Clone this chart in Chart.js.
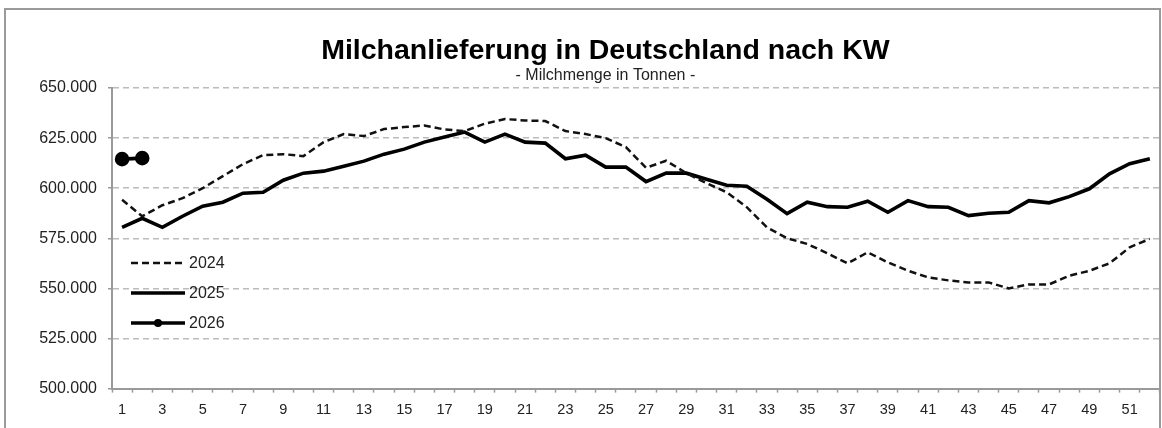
<!DOCTYPE html>
<html>
<head>
<meta charset="utf-8">
<script src="https://cdn.jsdelivr.net/npm/chart.js@4.4.1/dist/chart.umd.min.js"></script>
<style>
  html, body { margin: 0; padding: 0; background: #fff; overflow: hidden; }
  #wrap { position: relative; width: 1162px; height: 428px; overflow: hidden; }
  #c { display: block; }
</style>
</head>
<body>
<div id="wrap"><canvas id="c" width="1169" height="428"></canvas></div>
<script>
const weeks = ['1','2','3','4','5','6','7','8','9','10','11','12','13','14','15','16','17','18','19','20','21','22','23','24','25','26','27','28','29','30','31','32','33','34','35','36','37','38','39','40','41','42','43','44','45','46','47','48','49','50','51','52'];

const y2024 = [594200, 586000, 591500, 595000, 600000, 606000, 612000, 616500, 617000, 616000,
               623000, 627000, 626000, 629500, 630500, 631300, 629300, 628500, 632200, 634500,
               633800, 633500, 628500, 627000, 625000, 620500, 610200, 613700, 607500, 602500,
               598000, 590500, 580500, 575000, 572200, 567500, 562500, 568000, 563000, 558800,
               555500, 554000, 553000, 553000, 550000, 552000, 552000, 556300, 558800, 562500,
               570500, 574700];

const y2025 = [580500, 585000, 580500, 586000, 591000, 593000, 597500, 598000, 604000, 607500,
               608500, 611000, 613500, 617000, 619500, 623000, 625500, 628000, 623000, 627000,
               623000, 622500, 614700, 616500, 610500, 610500, 603300, 607500, 607500, 604500,
               601500, 601000, 594500, 587300, 593000, 590800, 590500, 593500, 588000, 593800,
               590800, 590500, 586300, 587500, 588000, 593800, 592700, 595800, 599700, 607200,
               612200, 614700];

const y2026 = [614500, 615000];

const seriesNames = ['2024', '2025', '2026'];
const titleText = 'Milchanlieferung in Deutschland nach KW';
const subtitleText = '- Milchmenge in Tonnen -';

const FONT = "'Liberation Sans', Arial, sans-serif";
const PAGE_W = 1162;

const frameTitleLegend = {
  id: 'frameTitleLegend',
  beforeDraw(chart) {
    const ctx = chart.ctx;
    ctx.save();
    ctx.fillStyle = '#fff';
    ctx.fillRect(0, 0, chart.width, chart.height);
    ctx.restore();
  },
  afterDraw(chart) {
    const ctx = chart.ctx;
    const ca = chart.chartArea;
    ctx.save();
    // outer frame
    ctx.strokeStyle = '#9a9a9a';
    ctx.lineWidth = 2;
    ctx.strokeRect(5, 9, PAGE_W - 7, chart.height + 20);
    // title + subtitle
    const cx = PAGE_W * 0.521;
    ctx.fillStyle = '#000';
    ctx.textAlign = 'center';
    ctx.textBaseline = 'alphabetic';
    ctx.font = 'bold 28.5px ' + FONT;
    ctx.fillText(titleText, cx, 59);
    ctx.fillStyle = '#222';
    ctx.font = '16px ' + FONT;
    ctx.fillText(subtitleText, cx, 80);
    // legend inside plot area
    chart.data.datasets.forEach((ds, i) => {
      const y = ca.top + 175 + i * 30;
      const x0 = ca.left + 19, x1 = ca.left + 73;
      ctx.beginPath();
      ctx.strokeStyle = ds.borderColor;
      ctx.lineWidth = ds.borderWidth;
      ctx.setLineDash(ds.borderDash || []);
      ctx.moveTo(x0, y);
      ctx.lineTo(x1, y);
      ctx.stroke();
      ctx.setLineDash([]);
      if (ds.pointRadius > 0) {
        ctx.beginPath();
        ctx.fillStyle = ds.pointBackgroundColor;
        ctx.arc((x0 + x1) / 2, y, 4, 0, Math.PI * 2);
        ctx.fill();
      }
      ctx.fillStyle = '#222';
      ctx.font = '16px ' + FONT;
      ctx.textBaseline = 'middle';
      ctx.textAlign = 'left';
      ctx.fillText(ds.label, x1 + 4, y + 1);
    });
    ctx.restore();
  }
};

new Chart(document.getElementById('c'), {
  type: 'line',
  data: {
    labels: weeks,
    datasets: [
      { label: seriesNames[0], data: y2024, borderColor: '#111', borderWidth: 2.5, borderDash: [7, 4],
        pointRadius: 0, tension: 0, fill: false },
      { label: seriesNames[1], data: y2025, borderColor: '#000', borderWidth: 3.6,
        pointRadius: 0, tension: 0, fill: false },
      { label: seriesNames[2], data: y2026, borderColor: '#000', borderWidth: 3.6,
        pointRadius: 5.5, pointBackgroundColor: '#000', pointBorderColor: '#000', tension: 0, fill: false }
    ]
  },
  options: {
    responsive: false,
    animation: false,
    layout: { padding: { left: 0, right: 0, top: 88, bottom: 0 } },
    plugins: {
      legend: { display: false },
      tooltip: { enabled: false },
      title: { display: false },
      subtitle: { display: false }
    },
    scales: {
      x: {
        type: 'category',
        offset: true,
        grid: { display: true, offset: true, drawOnChartArea: false, drawTicks: true, tickLength: 4,
                tickColor: '#9a9a9a', tickWidth: 1.5 },
        border: { display: true, color: '#9a9a9a', width: 2 },
        ticks: {
          autoSkip: false, maxRotation: 0, minRotation: 0, padding: 9,
          color: '#222', font: { family: FONT, size: 14.5 },
          callback: function (val, idx) { return idx % 2 === 0 ? weeks[idx] : ''; }
        }
      },
      y: {
        min: 500000, max: 650000,
        afterFit(scale) { scale.width = 112; },
        grid: { color: '#bcbcbc', lineWidth: 1.5, drawTicks: true, tickLength: 4,
                tickColor: '#9a9a9a', tickBorderDash: [], tickWidth: 1.5 },
        border: { display: true, color: '#9a9a9a', width: 2, dash: [6, 4] },
        ticks: {
          stepSize: 25000, padding: 11, color: '#222', font: { family: FONT, size: 16 },
          callback: function (v) { return Math.floor(v / 1000) + '.' + String(v % 1000).padStart(3, '0'); }
        }
      }
    }
  },
  plugins: [frameTitleLegend]
});
</script>
</body>
</html>
